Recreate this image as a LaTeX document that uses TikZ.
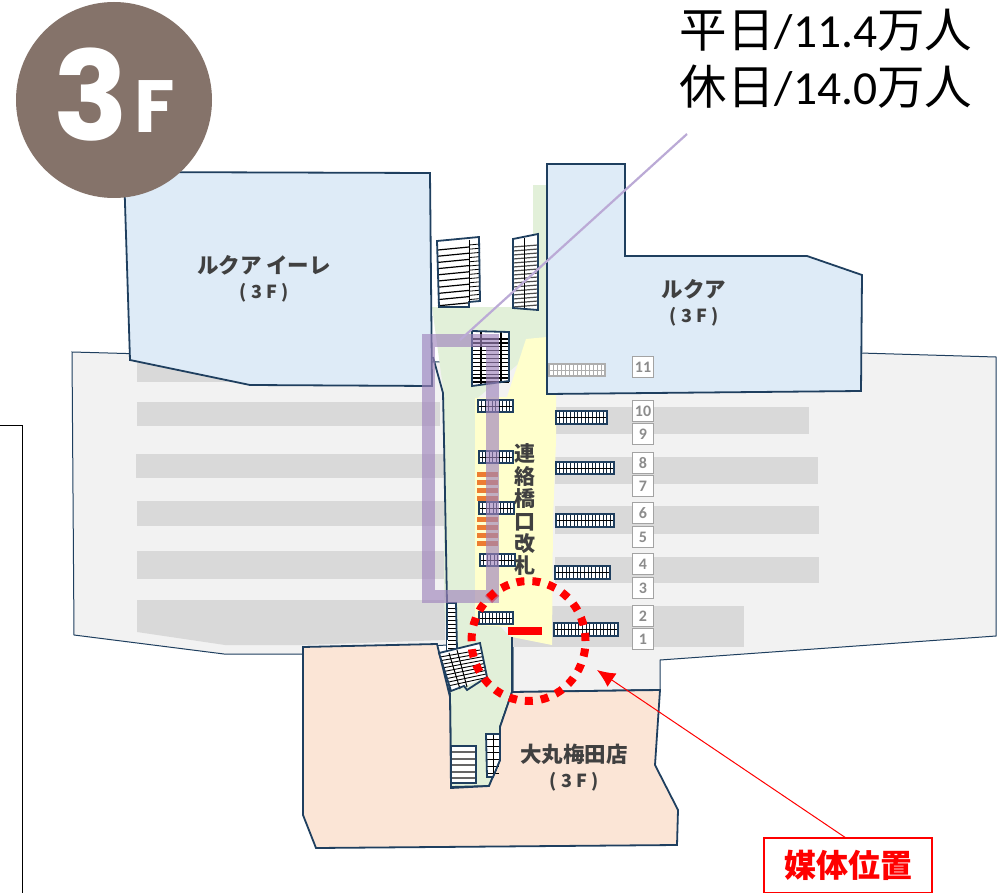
\documentclass[tikz,border=0pt]{standalone}
\usepackage{fontspec}
\usetikzlibrary{arrows.meta,shapes.geometric}
\setmainfont{Noto Sans CJK JP}
\newfontfamily\latinf{Carlito}
\newfontfamily\badgef{Poppins}
\definecolor{navy}{HTML}{1F3F5F}
\definecolor{bluefill}{HTML}{DEEBF7}
\definecolor{peach}{HTML}{FBE5D6}
\definecolor{greenfill}{HTML}{E2F0D9}
\definecolor{yellowfill}{HTML}{FFFFCC}
\definecolor{platform}{HTML}{F2F2F2}
\definecolor{stripe}{HTML}{D9D9D9}
\definecolor{brownc}{HTML}{85736A}
\definecolor{purp}{HTML}{9F84BC}
\definecolor{leadc}{HTML}{BBAAD6}
\definecolor{labelc}{HTML}{404040}
\definecolor{numc}{HTML}{8C8C8C}
\definecolor{orangec}{HTML}{ED7D31}
\tikzset{
 x=1pt,y=-1pt,
 outline/.style={draw=navy,line width=1.8pt,line join=miter},
 stripebar/.style={fill=stripe,draw=none},
 numbox/.style={draw=numc!80,fill=white,line width=1.2pt,minimum width=21pt,minimum height=21pt,inner sep=0pt,text=numc,font=\latinf\bfseries\fontsize{16}{16}\selectfont},
 arealabel/.style={text=labelc,font=\bfseries\fontsize{21.5}{25}\selectfont,align=center},
 purpleband/.style={draw=purp,line width=13pt,opacity=0.65,line join=miter},
 leader/.style={draw=leadc,line width=2.2pt},
 orangebar/.style={fill=orangec,draw=none},
 tread/.style={draw=black,line width=1.2pt},
 bigtext/.style={font=\fontsize{47.5}{47.5}\selectfont,text=black},
}
\newcommand{\floorf}{{\fontsize{18}{25}\selectfont ( 3 F )}}
\newcommand{\gatestrip}[5]{%
 \fill[white] (#1,#2) rectangle (#3,#4);
 \foreach \i in {1,...,#5}{\draw[navy!60!black,line width=0.9pt] ({#1+(#3-#1)*\i/(#5+1)},#2) -- ({#1+(#3-#1)*\i/(#5+1)},#4);}
 \draw[black,line width=0.9pt] (#1,{(#2+#4)/2}) -- (#3,{(#2+#4)/2});
 \draw[outline] (#1,#2) rectangle (#3,#4);
}
\begin{document}
\begin{tikzpicture}
\useasboundingbox (0,0) rectangle (998,893);
\fill[white] (0,0) rectangle (998,893);
\draw[black,line width=1pt] (0,425) -- (22,425) -- (22,893);
\path[fill=platform,draw=navy,line width=1pt] (72,352) -- (432,362) -- (860,353) -- (996,357) -- (996,636) -- (660,660) -- (660,690) -- (513,692) -- (513,640) -- (447,640) -- (447,645) -- (303,654) -- (224,654) -- (74,635) -- cycle;
\foreach \a/\b/\c/\d in {137/362/430/382,137/402/440/426,136/454/445/478,137/501/445/526,137/551/445/579,555/407/809/434,555/457/818/484,555/506/819/534,555/557/819/583,512/606/744/647}{
 \path[stripebar] (\a,\b) rectangle (\c,\d);
}
\path[stripebar] (137,600) -- (445,600) -- (445,640) -- (303,645) -- (225,645) -- (137,632) -- cycle;
\path[fill=greenfill] (533,185) -- (547,185) -- (547,340) -- (533,340) -- cycle;
\path[fill=greenfill] (432,307) -- (547,307) -- (547,340) -- (475,400) -- (475,600) -- (513,640) -- (513,692) -- (500,730) -- (500,787) -- (490,786) -- (451,787) -- (450,700) -- (447,645) -- (444,600) -- (444,395) -- cycle;
\path[fill=yellowfill] (475,398) -- (507,397) -- (526,339) -- (547,337) -- (556,395) -- (556,440) -- (553,520) -- (552,645) -- (512,637) -- (508,627) -- (475,625) -- cycle;
\draw[outline] (433,357) -- (443,393) -- (444,440) -- (447,603) -- (447,660) -- (450,695) -- (451,787) -- (489,786) -- (500,760) -- (500,727) -- (512,692) -- (660,690);
\draw[outline] (512,637) -- (512,692);
\path[outline,fill=peach] (303,647) -- (437,644) -- (450,697) -- (451,788) -- (489,786) -- (500,760) -- (500,727) -- (512,692) -- (660,690) -- (655,765) -- (678,810) -- (677,845) -- (316,848) -- (303,815) -- cycle;
\path[outline,fill=bluefill] (124,172) -- (430,173) -- (432,386) -- (250,385) -- (130,360) -- cycle;
\path[outline,fill=bluefill] (547,164) -- (625,164) -- (625,256) -- (807,256) -- (862,275) -- (861,391) -- (547,394) -- cycle;
\path[fill=white] (437,241) -- (479,237) -- (480,302) -- (437,307) -- cycle;
\foreach \i in {0,...,9}{\draw[tread] ({438},{250+\i*6.2}) -- ({469},{247+\i*6.2});}
\foreach \i in {0,...,13}{\draw[tread,line width=.8pt] (469,{245+\i*4.2}) -- (480,{244+\i*4.2});}
\draw[outline] (437,241) -- (479,237) -- (480,301) -- (469,302) -- (469,307) -- (439,307) -- cycle;
\draw[black,line width=1pt] (469,240) -- (469,302);
\path[fill=white] (513,239) -- (538,234) -- (538,310) -- (513,308) -- cycle;
\foreach \i in {0,...,15}{\draw[black!70,line width=1.2pt] (513,{247+\i*4}) -- (538,{245+\i*4});}
\draw[black,line width=1pt] (524,238) -- (524,308);
\draw[outline] (513,239) -- (538,234) -- (538,310) -- (513,308) -- cycle;
\path[fill=white] (472,332) -- (509,332) -- (509,381) -- (472,386) -- cycle;
\foreach \i in {0,...,11}{\draw[black,line width=1.2pt] (472,{339+\i*3.9}) -- (509,{339+\i*3.9});}
\draw[black,line width=1.2pt] (481,332) -- (481,385) (501,332) -- (501,382);
\draw[outline] (472,331) -- (509,332) -- (509,381) -- (472,386) -- cycle;
\gatestrip{478}{400}{513}{412}{9}
\gatestrip{479}{451}{513}{463}{9}
\gatestrip{479}{502}{514}{514}{9}
\gatestrip{480}{554}{515}{566}{9}
\gatestrip{479}{612}{513}{624}{9}
\gatestrip{556}{411}{607}{424}{13}
\gatestrip{556}{462}{614}{474}{15}
\gatestrip{556}{514}{614}{527}{15}
\gatestrip{555}{566}{610}{579}{14}
\gatestrip{554}{623}{618}{636}{17}
\fill[white] (549,364) rectangle (605,376);
\foreach \i in {1,...,13}{\draw[numc!70,line width=.8pt] ({549+\i*4},364) -- ({549+\i*4},376);}
\draw[numc!70,line width=.8pt] (549,370) -- (605,370);
\draw[numc!70,line width=1.5pt] (549,364) rectangle (605,376);
\foreach \y in {472,480,488,496,517,525,533,541}{\path[orangebar] (477,\y) rectangle (498,{\y+5});}
\path[fill=white] (447,603) -- (456,603) -- (457,653) -- (447,653) -- cycle;
\foreach \i in {0,...,11}{\draw[black,line width=.9pt] (448,{608+\i*4}) -- (456,{608+\i*4});}
\draw[outline] (447,603) -- (456,603) -- (457,650);
\draw[outline] (447,603) -- (447,640);
\path[fill=white] (439,653) -- (480,643) -- (487,677) -- (467,685) -- (451,691) -- cycle;
\foreach \i in {0,...,8}{\draw[black,line width=.9pt] ({440+\i*1.1},{657+\i*3.6}) -- ({480+\i*1.0},{650+\i*3.4});}
\draw[black,line width=1pt] (457,650) -- (467,687) (449,653) -- (460,689);
\draw[outline] (439,653) -- (480,643) -- (487,677) -- (467,690) -- (464,686) -- (451,691) -- cycle;
\path[outline,fill=white] (451,746) rectangle (476,783);
\foreach \y in {752,759,765,772,778}{\draw[black!60,line width=1.3pt] (452,\y) -- (475,\y);}
\path[fill=white] (486,734) -- (500,734) -- (500,760) -- (493,777) -- (487,777) -- cycle;
\foreach \y in {739,746,752,759,766,773}{\draw[black,line width=.9pt] (486,\y) -- (499,\y);}
\draw[black,line width=.9pt] (493,734) -- (493,775);
\draw[outline] (486,734) -- (500,734) -- (500,760) -- (493,777) -- (487,777) -- cycle;
\foreach \n/\y/\t in {n11/367/11,n10/411/10,n9/434/9,n8/463/8,n7/486/7,n6/513/6,n5/537/5,n4/564/4,n3/588/3,n2/616/2,n1/639/1}{
 \node[numbox] (\n) at (643,\y) {\t};
}
\draw[purpleband] (492,603) -- (492,340) -- (428.5,340) -- (428.5,596.5) -- (498,596.5);
\path[fill=purp!60!red,opacity=.8] (492,589) -- (499,596) -- (492,603) -- (485,596) -- cycle;
\coordinate (ltop) at (687,134);
\coordinate (lbot) at (460,340);
\draw[leader] (ltop) -- (lbot);
\node[bigtext] (wd) at (826,30) {平日{\latinf/11.4}万人};
\node[bigtext] (we) at (826,87) {休日{\latinf/14.0}万人};
\node[circle,fill=brownc,minimum size=196pt,inner sep=0pt] (badge) at (114,100) {};
\node[text=white,inner sep=0pt,font=\badgef\bfseries\fontsize{124}{124}\selectfont] (b3) at (91,95) {3};
\node[text=white,inner sep=0pt,font=\badgef\bfseries\fontsize{74}{74}\selectfont] (bf) at (155,107) {F};
\node[arealabel] (a1) at (264,279) {ルクア イーレ\\\floorf};
\node[arealabel] (a2) at (694,303) {ルクア\\\floorf};
\node[arealabel] (a3) at (574,768) {大丸梅田店\\\floorf};
\node[text=labelc,font=\bfseries\fontsize{21}{22.4}\selectfont,align=center] (gate) at (525,510) {連\\絡\\橋\\口\\改\\札};
\path[fill=red] (508,627) rectangle (542,635);
\node[ellipse,draw=red,line width=8pt,dash pattern=on 8pt off 8pt,minimum width=114pt,minimum height=120pt,inner sep=0pt] (ring) at (528.5,641) {};
\node[draw=red,fill=white,line width=1.6pt,text=red,font=\bfseries\fontsize{32}{32}\selectfont,minimum width=168pt,minimum height=55pt,inner sep=0pt] (media) at (848,865.5) {媒体位置};
\coordinate (mfrom) at (846,838);
\coordinate (mto) at (597,670);
\draw[red,line width=1pt,-{Latex[length=18pt,width=16pt]}] (mfrom) -- (mto);
\end{tikzpicture}
\end{document}
